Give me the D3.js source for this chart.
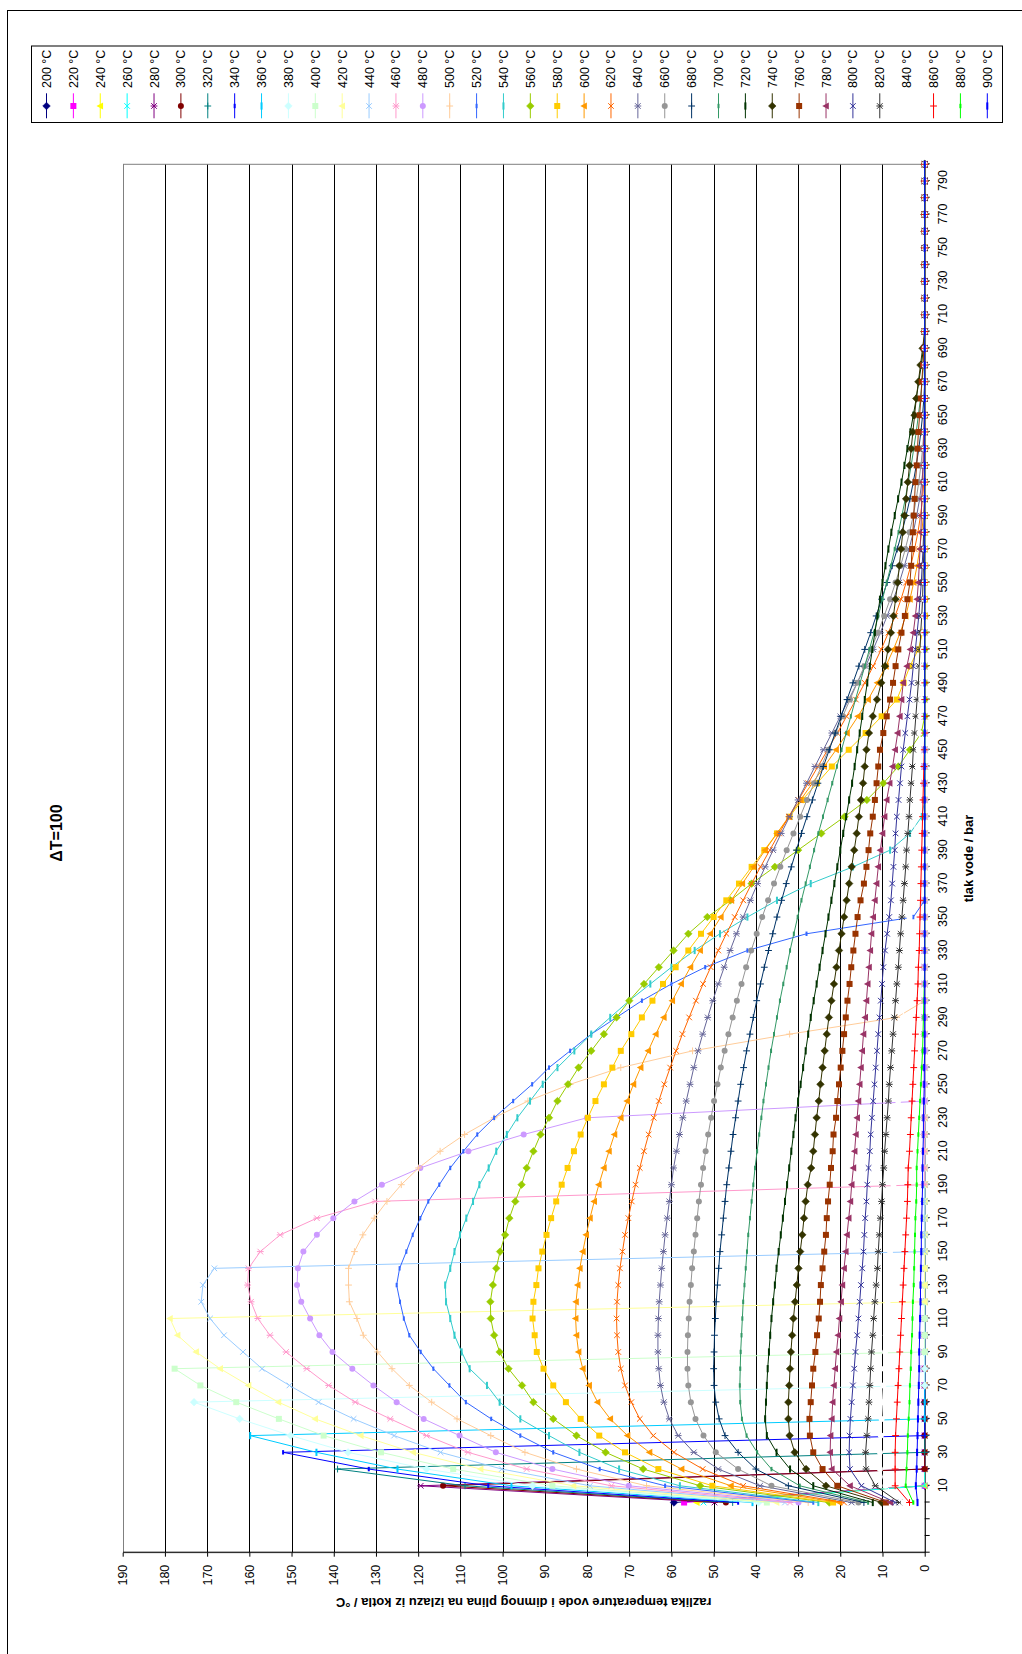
<!DOCTYPE html>
<html>
<head>
<meta charset="utf-8">
<title>dT=100</title>
<script src="https://d3js.org/d3.v7.min.js"></script>
<style>
  body { margin: 0; background: #fff; }
  text { font-family: "Liberation Sans", Arial, sans-serif; }
</style>
</head>
<body>
<div id="my_dataviz"></div>
<script>
// pressure categories (bar); first three slots are empty, the first point has no label
var pressure = ["", "", "", "1",
  "10","20","30","40","50","60","70","80","90","100",
  "110","120","130","140","150","160","170","180","190","200",
  "210","220","230","240","250","260","270","280","290","300",
  "310","320","330","340","350","360","370","380","390","400",
  "410","420","430","440","450","460","470","480","490","500",
  "510","520","530","540","550","560","570","580","590","600",
  "610","620","630","640","650","660","670","680","690","700",
  "710","720","730","740","750","760","770","780","790","800"];

var temps = ["200 °C","220 °C","240 °C","260 °C","280 °C","300 °C","320 °C","340 °C","360 °C",
  "380 °C","400 °C","420 °C","440 °C","460 °C","480 °C","500 °C","520 °C","540 °C",
  "560 °C","580 °C","600 °C","620 °C","640 °C","660 °C","680 °C","700 °C","720 °C",
  "740 °C","760 °C","780 °C","800 °C","820 °C","840 °C","860 °C","880 °C","900 °C"];

// temperature difference / °C, one value per pressure point (1, 10, 20 ... 800 bar)
var t200 = [59.4,
  0,0,0,0,0,0,0,0,0,0, 0,0,0,0,0,0,0,0,0,0, 0,0,0,0,0,0,0,0,0,0, 0,0,0,0,0,0,0,0,0,0,
  0,0,0,0,0,0,0,0,0,0, 0,0,0,0,0,0,0,0,0,0, 0,0,0,0,0,0,0,0,0,0, 0,0,0,0,0,0,0,0,0,0];
var t220 = [57.0,
  0,0,0,0,0,0,0,0,0,0, 0,0,0,0,0,0,0,0,0,0, 0,0,0,0,0,0,0,0,0,0, 0,0,0,0,0,0,0,0,0,0,
  0,0,0,0,0,0,0,0,0,0, 0,0,0,0,0,0,0,0,0,0, 0,0,0,0,0,0,0,0,0,0, 0,0,0,0,0,0,0,0,0,0];
var t240 = [54.0,
  0,0,0,0,0,0,0,0,0,0, 0,0,0,0,0,0,0,0,0,0, 0,0,0,0,0,0,0,0,0,0, 0,0,0,0,0,0,0,0,0,0,
  0,0,0,0,0,0,0,0,0,0, 0,0,0,0,0,0,0,0,0,0, 0,0,0,0,0,0,0,0,0,0, 0,0,0,0,0,0,0,0,0,0];
var t260 = [52.4,
  0,0,0,0,0,0,0,0,0,0, 0,0,0,0,0,0,0,0,0,0, 0,0,0,0,0,0,0,0,0,0, 0,0,0,0,0,0,0,0,0,0,
  0,0,0,0,0,0,0,0,0,0, 0,0,0,0,0,0,0,0,0,0, 0,0,0,0,0,0,0,0,0,0, 0,0,0,0,0,0,0,0,0,0];
var t280 = [49.8, 119.4,
  0,0,0,0,0,0,0,0,0,0, 0,0,0,0,0,0,0,0,0,0, 0,0,0,0,0,0,0,0,0,0, 0,0,0,0,0,0,0,0,0,0,
  0,0,0,0,0,0,0,0,0,0, 0,0,0,0,0,0,0,0,0,0, 0,0,0,0,0,0,0,0,0,0, 0,0,0,0,0,0,0,0,0];
var t300 = [47.1, 114.1,
  0,0,0,0,0,0,0,0,0,0, 0,0,0,0,0,0,0,0,0,0, 0,0,0,0,0,0,0,0,0,0, 0,0,0,0,0,0,0,0,0,0,
  0,0,0,0,0,0,0,0,0,0, 0,0,0,0,0,0,0,0,0,0, 0,0,0,0,0,0,0,0,0,0, 0,0,0,0,0,0,0,0,0];
var t320 = [45.5, 108.9, 139.1,
  0,0,0,0,0,0,0,0,0,0, 0,0,0,0,0,0,0,0,0,0, 0,0,0,0,0,0,0,0,0,0, 0,0,0,0,0,0,0,0,0,0,
  0,0,0,0,0,0,0,0,0,0, 0,0,0,0,0,0,0,0,0,0, 0,0,0,0,0,0,0,0,0,0, 0,0,0,0,0,0,0,0];
var t340 = [44.2, 103.4, 131.7, 152.0,
  0,0,0,0,0,0,0,0,0,0, 0,0,0,0,0,0,0,0,0,0, 0,0,0,0,0,0,0,0,0,0, 0,0,0,0,0,0,0,0,0,0,
  0,0,0,0,0,0,0,0,0,0, 0,0,0,0,0,0,0,0,0,0, 0,0,0,0,0,0,0,0,0,0, 0,0,0,0,0,0,0];
var t360 = [40.8, 97.9, 124.9, 144.1, 159.8,
  0,0,0,0,0,0,0,0,0,0, 0,0,0,0,0,0,0,0,0,0, 0,0,0,0,0,0,0,0,0,0, 0,0,0,0,0,0,0,0,0,0,
  0,0,0,0,0,0,0,0,0,0, 0,0,0,0,0,0,0,0,0,0, 0,0,0,0,0,0,0,0,0,0, 0,0,0,0,0,0];
var t380 = [39.4, 92.9, 118.0, 136.6, 150.2, 162.3, 173.1,
  0,0,0,0,0,0,0,0,0,0, 0,0,0,0,0,0,0,0,0,0, 0,0,0,0,0,0,0,0,0,0, 0,0,0,0,0,0,0,0,0,0,
  0,0,0,0,0,0,0,0,0,0, 0,0,0,0,0,0,0,0,0,0, 0,0,0,0,0,0,0,0,0,0, 0,0,0,0];
var t400 = [37.4, 88.2, 111.7, 128.8, 142.4, 153.0, 163.1, 171.6, 177.7,
  0,0,0,0,0,0,0,0,0,0, 0,0,0,0,0,0,0,0,0,0, 0,0,0,0,0,0,0,0,0,0, 0,0,0,0,0,0,0,0,0,0,
  0,0,0,0,0,0,0,0,0,0, 0,0,0,0,0,0,0,0,0,0, 0,0,0,0,0,0,0,0,0,0, 0,0];
var t420 = [35.1, 83.2, 105.2, 121.2, 133.6, 144.4, 153.1, 160.2, 166.9, 172.6,
  177.0, 178.8,
  0,0,0,0,0,0,0,0,0,0, 0,0,0,0,0,0,0,0,0,0, 0,0,0,0,0,0,0,0,0,0, 0,0,0,0,0,0,0,0,0,0,
  0,0,0,0,0,0,0,0,0,0, 0,0,0,0,0,0,0,0,0,0, 0,0,0,0,0,0,0,0,0];
var t440 = [33.1, 79.3, 100.2, 114.7, 125.7, 135.3, 143.6, 150.5, 157.0, 161.5,
  166.0, 169.3, 171.4, 171.0, 168.3,
  0,0,0,0,0,0,0,0,0,0, 0,0,0,0,0,0,0,0,0,0, 0,0,0,0,0,0,0,0,0,0, 0,0,0,0,0,0,0,0,0,0,
  0,0,0,0,0,0,0,0,0,0, 0,0,0,0,0,0,0,0,0,0, 0,0,0,0,0,0];
var t460 = [31.9, 74.2, 94.3, 108.2, 118.0, 126.6, 134.9, 141.2, 146.4, 151.3,
  155.1, 158.0, 159.6, 160.4, 160.2, 157.4, 152.7, 144.0, 130.2,
  0,0,0,0,0,0,0,0,0,0, 0,0,0,0,0,0,0,0,0,0, 0,0,0,0,0,0,0,0,0,0, 0,0,0,0,0,0,0,0,0,0,
  0,0,0,0,0,0,0,0,0,0, 0,0,0,0,0,0,0,0,0,0, 0,0];
var t480 = [29.9, 70.1, 88.2, 101.6, 110.2, 118.7, 125.1, 130.6, 135.6, 140.3,
  143.4, 145.6, 147.7, 148.7, 148.5, 147.2, 144.0, 140.1, 135.1, 128.6,
  119.5, 108.1, 95.0, 80.0,
  0,0,0,0,0,0,0,0,0,0, 0,0,0,0,0,0,0,0,0,0, 0,0,0,0,0,0,0,0,0,0, 0,0,0,0,0,0,0,0,0,0,
  0,0,0,0,0,0,0,0,0,0, 0,0,0,0,0,0,0];
var t500 = [27.6, 65.9, 82.5, 94.7, 102.8, 110.8, 116.8, 122.1, 126.2, 129.6,
  133.0, 134.5, 136.3, 136.5, 136.5, 135.1, 133.1, 130.4, 127.4, 124.0,
  119.9, 114.8, 109.0, 102.0, 94.0, 84.0, 72.0, 55.0, 32.0, 6.6,
  0,0,0,0,0,0,0,0,0,0, 0,0,0,0,0,0,0,0,0,0, 0,0,0,0,0,0,0,0,0,0, 0,0,0,0,0,0,0,0,0,0,
  0,0,0,0,0,0,0,0,0,0, 0];
var t520 = [26.4, 61.5, 77.0, 88.0, 95.8, 102.7, 108.7, 112.6, 116.4, 119.4,
  122.1, 123.4, 124.3, 125.1, 124.4, 122.8, 121.3, 119.5, 117.6, 115.0,
  112.4, 109.3, 106.0, 102.0, 97.5, 93.0, 89.0, 84.0, 79.0, 73.0,
  67.0, 60.0, 52.0, 42.0, 28.0, 2.7,
  0,0,0,0,0,0,0,0,0,0, 0,0,0,0,0,0,0,0,0,0, 0,0,0,0,0,0,0,0,0,0, 0,0,0,0,0,0,0,0,0,0,
  0,0,0,0,0];
var t540 = [25.2, 58.0, 72.4, 81.8, 89.0, 95.8, 100.7, 103.7, 107.8, 109.7,
  111.4, 112.4, 113.4, 113.6, 112.4, 111.4, 110.1, 108.6, 107.0, 105.5,
  103.3, 101.5, 99.0, 96.5, 93.5, 90.5, 87.0, 83.0, 79.0, 74.5,
  70.0, 65.0, 60.0, 54.5, 48.5, 42.0, 35.0, 27.0, 17.0, 8.2,
  3.5, 0.7,
  0,0,0,0,0,0,0,0,0,0, 0,0,0,0,0,0,0,0,0,0, 0,0,0,0,0,0,0,0,0,0, 0,0,0,0,0,0,0,0,0];
var t560 = [22.6, 53.2, 66.7, 75.6, 82.5, 88.0, 92.7, 95.4, 98.6, 100.7,
  102.0, 102.8, 102.9, 102.3, 101.5, 100.6, 99.4, 98.4, 97.0, 95.5,
  94.3, 92.7, 91.0, 89.0, 87.0, 84.5, 82.0, 79.0, 76.0, 73.0,
  70.0, 66.5, 63.0, 59.5, 56.0, 51.5, 46.0, 41.0, 35.5, 30.0,
  24.5, 19.0, 13.7, 9.8, 6.25, 3.5, 0.8,
  0,0,0,0,0,0,0,0,0,0, 0,0,0,0,0,0,0,0,0,0, 0,0,0,0,0,0,0,0,0,0, 0,0,0,0];
var t580 = [21.7, 50.3, 63.1, 71.0, 77.1, 81.5, 85.0, 88.0, 90.3, 91.9,
  92.4, 92.9, 92.7, 92.0, 91.5, 90.6, 89.6, 88.5, 87.3, 86.0,
  84.6, 83.1, 81.5, 79.8, 78.0, 76.0, 74.0, 72.0, 69.5, 67.0,
  64.5, 62.0, 59.0, 56.0, 53.0, 50.0, 47.0, 44.0, 41.0, 38.0,
  35.0, 32.0, 29.0, 25.5, 22.0, 18.0, 14.0, 10.2, 6.6, 5.0,
  3.5, 1.5, 0.5,
  0,0,0,0,0,0,0,0,0,0, 0,0,0,0,0,0,0,0,0,0, 0,0,0,0,0,0,0,0];
var t600 = [20.2, 45.9, 57.6, 65.2, 70.4, 74.5, 77.5, 79.5, 81.0, 82.0,
  82.5, 82.7, 82.6, 82.2, 81.7, 81.0, 80.2, 79.3, 78.3, 77.2,
  76.0, 74.8, 73.5, 72.0, 70.5, 69.0, 67.3, 65.5, 63.7, 61.8,
  59.8, 57.7, 55.5, 53.2, 50.8, 48.3, 45.8, 43.2, 40.5, 37.8,
  35.0, 32.2, 29.4, 26.6, 23.8, 21.0, 18.4, 15.8, 13.4, 11.2,
  9.2, 7.4, 5.8, 4.5, 3.5, 2.6, 1.8, 1.2, 0.7, 0.3,
  0,0,0,0,0,0,0,0,0,0, 0,0,0,0,0,0,0,0,0,0, 0];
var t620 = [19.1, 43.0, 52.6, 59.4, 64.3, 67.5, 69.5, 71.0, 72.0, 72.6,
  72.9, 73.0, 72.9, 72.6, 72.2, 71.6, 71.0, 70.2, 69.4, 68.5,
  67.5, 66.5, 65.4, 64.2, 63.0, 61.7, 60.3, 58.9, 57.4, 55.8,
  54.2, 52.5, 50.7, 48.9, 47.0, 45.0, 43.0, 41.0, 38.9, 36.7,
  34.5, 32.2, 29.9, 27.6, 25.3, 23.0, 20.7, 18.5, 16.3, 14.2,
  12.2, 10.3, 8.6, 7.0, 5.6, 4.4, 3.3, 2.4, 1.6, 1.0,
  0.5, 0.2,
  0,0,0,0,0,0,0,0,0,0, 0,0,0,0,0,0,0,0,0];
var t640 = [17.3, 39.0, 48.9, 54.7, 58.4, 60.5, 61.8, 62.6, 63.0, 63.2,
  63.2, 63.1, 62.9, 62.6, 62.3, 61.9, 61.5, 61.0, 60.5, 60.0,
  59.5, 58.8, 58.1, 57.3, 56.5, 55.6, 54.7, 53.7, 52.6, 51.4,
  50.2, 48.9, 47.5, 46.1, 44.6, 43.0, 41.3, 39.6, 37.8, 35.9,
  34.0, 32.0, 30.0, 28.0, 26.0, 24.0, 22.0, 20.0, 18.0, 16.0,
  14.0, 12.2, 10.5, 8.9, 7.4, 6.0, 4.8, 3.7, 2.7, 1.9,
  1.2, 0.7, 0.3, 0.1,
  0,0,0,0,0,0,0,0,0,0, 0,0,0,0,0,0,0];
var t660 = [15.7, 36.3, 44.2, 49.5, 52.4, 54.3, 55.4, 56.0, 56.2, 56.2,
  56.1, 55.9, 55.7, 55.4, 55.1, 54.7, 54.3, 53.9, 53.5, 53.0,
  52.5, 51.9, 51.3, 50.6, 49.9, 49.1, 48.3, 47.4, 46.5, 45.5,
  44.5, 43.4, 42.3, 41.1, 39.8, 38.5, 37.1, 35.7, 34.2, 32.7,
  31.1, 29.5, 27.9, 26.2, 24.5, 22.8, 21.1, 19.4, 17.7, 16.0,
  14.3, 12.7, 11.1, 9.6, 8.2, 6.9, 5.7, 4.6, 3.6, 2.7,
  2.0, 1.4, 0.9, 0.5, 0.2, 0.1,
  0,0,0,0,0,0,0,0,0,0, 0,0,0,0,0];
var t680 = [14.4, 32.3, 40.0, 44.2, 47.3, 48.7, 49.5, 49.9, 50.0, 49.9,
  49.8, 49.6, 49.4, 49.1, 48.8, 48.5, 48.1, 47.7, 47.3, 46.9,
  46.4, 45.9, 45.4, 44.8, 44.2, 43.6, 42.9, 42.2, 41.4, 40.6,
  39.8, 38.9, 38.0, 37.0, 36.0, 35.0, 33.9, 32.8, 31.6, 30.4,
  29.2, 27.9, 26.6, 25.3, 24.0, 22.6, 21.2, 19.8, 18.4, 17.0,
  15.6, 14.2, 12.8, 11.5, 10.2, 8.9, 7.7, 6.5, 5.4, 4.4,
  3.5, 2.7, 2.0, 1.4, 0.9, 0.5, 0.2,
  0,0,0,0,0,0,0,0,0,0, 0,0,0,0];
var t700 = [13.4, 29.6, 36.3, 39.7, 42.2, 43.3, 43.7, 43.8, 43.7, 43.6,
  43.4, 43.2, 43.0, 42.7, 42.4, 42.1, 41.8, 41.4, 41.0, 40.6,
  40.2, 39.7, 39.2, 38.7, 38.2, 37.6, 37.0, 36.4, 35.7, 35.0,
  34.3, 33.5, 32.7, 31.9, 31.0, 30.1, 29.2, 28.2, 27.2, 26.2,
  25.2, 24.1, 23.0, 21.9, 20.8, 19.7, 18.6, 17.5, 16.4, 15.3,
  14.2, 13.1, 12.0, 11.0, 10.0, 9.0, 8.0, 7.1, 6.2, 5.4,
  4.6, 3.9, 3.2, 2.6, 2.0, 1.5, 1.0, 0.6, 0.3,
  0,0,0,0,0,0,0,0,0,0, 0,0];
var t720 = [12.3, 26.4, 31.9, 35.1, 37.4, 37.8, 37.6, 37.4, 37.2, 36.9,
  36.6, 36.3, 35.9, 35.5, 35.1, 34.6, 34.1, 33.6, 33.1, 32.6,
  32.1, 31.6, 31.1, 30.6, 30.0, 29.4, 28.8, 28.2, 27.6, 27.0,
  26.3, 25.6, 24.9, 24.2, 23.5, 22.8, 22.1, 21.4, 20.7, 20.0,
  19.3, 18.6, 17.9, 17.2, 16.6, 16.0, 15.4, 14.8, 14.2, 13.6,
  13.0, 12.4, 11.8, 11.2, 10.6, 10.0, 9.3, 8.6, 7.9, 7.1,
  6.3, 5.5, 4.8, 4.1, 3.4, 2.7, 2.0, 1.4, 0.8, 0.3,
  0,0,0,0,0,0,0,0,0,0, 0];
var t740 = [10.2, 23.4, 28.1, 30.8, 32.0, 32.3, 32.3, 32.1, 31.9, 31.7,
  31.4, 31.1, 30.7, 30.3, 29.9, 29.5, 29.0, 28.6, 28.2, 27.7,
  26.9, 26.4, 26.0, 25.6, 25.1, 24.7, 24.2, 23.7, 23.2, 22.7,
  22.1, 21.5, 20.9, 20.3, 19.7, 19.1, 18.5, 17.9, 17.3, 16.7,
  16.1, 15.6, 15.1, 14.6, 14.2, 13.8, 13.2, 12.3, 11.3, 10.3,
  9.4, 8.7, 8.0, 7.4, 6.9, 6.4, 6.0, 5.6, 5.2, 4.8,
  4.4, 4.0, 3.6, 3.2, 2.8, 2.4, 2.0, 1.5, 1.0, 0.5,
  0,0,0,0,0,0,0,0,0,0, 0];
var t760 = [9.2, 20.7, 24.2, 26.4, 27.2, 27.3, 27.0, 26.7, 26.4, 25.9,
  25.5, 25.1, 24.8, 24.6, 24.2, 23.8, 23.4, 23.2, 22.9, 22.5,
  22.2, 21.8, 21.6, 21.0, 20.7, 20.3, 19.9, 19.5, 19.1, 18.7,
  18.3, 17.8, 17.4, 16.9, 16.4, 15.9, 15.2, 14.4, 13.8, 13.3,
  12.9, 12.3, 11.8, 11.4, 11.0, 10.6, 9.8, 9.0, 8.2, 7.5,
  6.9, 6.25, 5.5, 4.7, 4.1, 3.5, 3.2, 3.0, 2.8, 2.6,
  2.4, 2.2, 1.9, 1.7, 1.5, 1.2, 0.9, 0.7, 0.4, 0.2,
  0,0,0,0,0,0,0,0,0,0, 0];
var t780 = [8.1, 17.7, 22.0, 22.4, 22.3, 22.0, 21.8, 21.5, 21.2, 20.9,
  20.5, 20.2, 19.8, 19.5, 19.1, 18.7, 18.4, 18.0, 17.6, 17.3,
  16.9, 16.6, 16.3, 16.0, 15.7, 15.4, 15.1, 14.8, 14.5, 14.1,
  13.8, 13.5, 13.2, 12.9, 12.6, 12.2, 11.8, 11.4, 11.0, 10.5,
  10.0, 9.5, 9.0, 8.3, 7.6, 7.0, 6.4, 5.9, 5.5, 5.1,
  4.2, 3.4, 2.7, 2.2, 1.8, 1.5, 1.3, 1.1, 0.9, 0.8,
  0.7, 0.5, 0.4, 0.3, 0.2, 0.1,
  0,0,0,0,0,0,0,0,0,0, 0,0,0,0,0];
var t800 = [7.0, 15.0, 17.7, 17.9, 17.8, 17.6, 17.3, 17.0, 16.7, 16.4,
  16.0, 15.7, 15.4, 15.1, 14.8, 14.5, 14.3, 14.1, 13.8, 13.6,
  13.3, 13.0, 12.8, 12.5, 12.2, 11.9, 11.6, 11.3, 11.0, 10.7,
  10.4, 10.1, 9.8, 9.4, 8.9, 8.4, 8.0, 7.7, 7.4, 7.1,
  6.9, 6.6, 6.2, 5.85, 5.5, 5.1, 4.6, 4.1, 3.6, 3.1,
  2.7, 2.2, 1.8, 1.4, 1.1, 0.8, 0.6, 0.4, 0.25, 0.15,
  0.05,
  0,0,0,0,0,0,0,0,0,0, 0,0,0,0,0,0,0,0,0,0];
var t820 = [6.0, 11.7, 13.9, 14.0, 13.7, 13.4, 13.2, 13.0, 12.8, 12.6,
  12.3, 12.1, 11.8, 11.5, 11.2, 11.0, 10.75, 10.5, 10.2, 10.0,
  9.7, 9.5, 9.2, 8.9, 8.6, 8.4, 8.1, 7.8, 7.5, 7.2,
  6.9, 6.6, 6.25, 6.0, 5.7, 5.4, 5.1, 4.8, 4.5, 4.3,
  4.0, 3.7, 3.5, 3.2, 2.9, 2.7, 2.4, 2.1, 1.8, 1.5,
  1.3, 1.1, 0.95, 0.7, 0.5, 0.4, 0.3, 0.2, 0.1,
  0,0,0,0,0,0,0,0,0,0, 0,0,0,0,0,0,0,0,0,0, 0,0];
var t840 = [5.0, 9.3, 10.6, 10.6, 10.4, 10.2, 10.0, 9.8, 9.6, 9.4,
  9.2, 9.0, 8.8, 8.6, 8.4, 8.2, 8.0, 7.8, 7.6, 7.4,
  7.2, 7.0, 6.8, 6.5, 6.3, 6.1, 5.8, 5.6, 5.3, 5.1,
  4.8, 4.6, 4.3, 4.1, 3.8, 3.6, 3.3, 3.1, 2.8, 2.6,
  2.4, 2.2, 2.0, 1.8, 1.6, 1.4, 1.2, 1.0, 0.8, 0.6,
  0.5, 0.4, 0.3, 0.2, 0.1,
  0,0,0,0,0,0,0,0,0,0, 0,0,0,0,0,0,0,0,0,0, 0,0,0,0,0,0];
var t860 = [3.6, 7.0, 7.0, 7.0, 6.9, 6.7, 6.5, 6.3, 6.1, 5.9,
  5.7, 5.5, 5.3, 5.1, 4.9, 4.7, 4.5, 4.3, 4.1, 4.0,
  3.9, 3.6, 3.4, 3.2, 3.0, 2.8, 2.6, 2.4, 2.2, 2.0,
  1.8, 1.6, 1.5, 1.3, 1.2, 1.1, 1.0, 0.9, 0.8, 0.7,
  0.6, 0.5, 0.4, 0.3, 0.2, 0.1,
  0,0,0,0,0,0,0,0,0,0, 0,0,0,0,0,0,0,0,0,0, 0,0,0,0,0,0,0,0,0,0, 0,0,0,0,0];
var t880 = [2.7, 4.5, 4.3, 4.1, 4.0, 3.8, 3.6, 3.5, 3.3, 3.2,
  3.0, 2.9, 2.8, 2.6, 2.5, 2.4, 2.3, 2.2, 2.0, 1.9,
  1.9, 1.7, 1.5, 1.3, 1.1, 0.9, 0.7, 0.5, 0.4, 0.3,
  0.2, 0.1,
  0,0,0,0,0,0,0,0,0,0, 0,0,0,0,0,0,0,0,0,0, 0,0,0,0,0,0,0,0,0,0, 0,0,0,0,0,0,0,0,0,0,
  0,0,0,0,0,0,0,0,0];
var t900 = [1.7, 2.1, 1.9, 1.8, 1.7, 1.6, 1.5, 1.4, 1.3, 1.3,
  1.2, 1.1, 1.0, 1.0, 0.9, 0.8, 0.8, 0.7, 0.6, 0.5,
  0.5, 0.4, 0.3, 0.3, 0.2, 0.1, 0.1,
  0,0,0,0,0,0,0,0,0,0, 0,0,0,0,0,0,0,0,0,0, 0,0,0,0,0,0,0,0,0,0, 0,0,0,0,0,0,0,0,0,0,
  0,0,0,0,0,0,0,0,0,0, 0,0,0,0];

var series = [t200, t220, t240, t260, t280, t300, t320, t340, t360, t380, t400, t420,
  t440, t460, t480, t500, t520, t540, t560, t580, t600, t620, t640, t660, t680, t700,
  t720, t740, t760, t780, t800, t820, t840, t860, t880, t900];

// excel default line colours, in series order
var colors = ["#000080","#FF00FF","#FFFF00","#00FFFF","#800080","#800000","#008080","#0000FF",
  "#00CCFF","#CCFFFF","#CCFFCC","#FFFF99","#99CCFF","#FF99CC","#CC99FF","#FFCC99",
  "#3366FF","#33CCCC","#99CC00","#FFCC00","#FF9900","#FF6600","#666699","#969696",
  "#003366","#339966","#003300","#333300","#993300","#993366","#333399","#333333",
  "#FFFFFF","#FF0000","#00FF00","#0000FF"];
var markerCycle = ["diamond","square","triangle","x","star","circle","plus","dash","longdash"];

series.forEach(function(s, i) {
  if (s.length != pressure.length - 3) throw new Error(temps[i] + " has " + s.length + " points");
});

var W = 1022, H = 1654;
var svg = d3.select("#my_dataviz").append("svg")
  .attr("width", W)
  .attr("height", H);

// the chart is laid out in landscape and then turned a quarter turn to the left
var chart = svg.append("g")
  .attr("transform", "translate(0," + H + ") rotate(-90)");

// chart area frame
chart.append("rect")
  .attr("x", -10).attr("y", 7.5)
  .attr("width", 1653.5).attr("height", 1100)
  .attr("fill", "none").attr("stroke", "#000");

var plotL = 101.3, plotR = 1489.7, plotT = 122.7, plotB = 924.7;

var x = d3.scalePoint()
  .domain(d3.range(pressure.length))
  .range([plotL, plotR]);

var y = d3.scaleLinear()
  .domain([0, 190])
  .range([plotB, plotT]);

// gridlines
chart.append("g").selectAll("line")
  .data(d3.range(10, 190, 10))
  .enter().append("line")
  .attr("x1", plotL).attr("x2", plotR)
  .attr("y1", function(d) { return Math.round(y(d)) + 0.5; })
  .attr("y2", function(d) { return Math.round(y(d)) + 0.5; })
  .attr("stroke", "#000")
  .attr("shape-rendering", "crispEdges");

// plot area border
chart.append("rect")
  .attr("x", plotL).attr("y", Math.round(plotT) + 0.5)
  .attr("width", plotR - plotL).attr("height", plotB - plotT)
  .attr("fill", "none").attr("stroke", "#808080");

// pressure axis
var xAxis = d3.axisBottom(x)
  .tickSize(5).tickSizeOuter(0).tickPadding(8)
  .tickFormat(function(i) { return i % 2 == 0 ? pressure[i] : ""; });
var gx = chart.append("g")
  .attr("transform", "translate(0," + plotB + ")")
  .call(xAxis);

// temperature difference axis
var yAxis = d3.axisLeft(y)
  .tickValues(d3.range(0, 191, 10))
  .tickSize(4).tickSizeOuter(0).tickPadding(8);
var gy = chart.append("g")
  .attr("transform", "translate(" + plotL + ",0)")
  .call(yAxis);

[gx, gy].forEach(function(a) {
  a.attr("font-family", "Liberation Sans, Arial, sans-serif").attr("font-size", 12.5);
  a.selectAll("text").attr("fill", "#000");
  a.selectAll("line, path").attr("stroke", "#000");
});

function drawMarker(sel, type, c) {
  if (type == "diamond") {
    sel.append("path").attr("d", "M0,-3.8L3.8,0L0,3.8L-3.8,0Z").attr("fill", c).attr("stroke", c).attr("stroke-width", 0.5);
  } else if (type == "square") {
    sel.append("rect").attr("x", -3).attr("y", -3).attr("width", 6).attr("height", 6).attr("fill", c);
  } else if (type == "triangle") {
    sel.append("path").attr("d", "M0,-3.8L3.6,2.8L-3.6,2.8Z").attr("fill", c);
  } else if (type == "x") {
    sel.append("path").attr("d", "M-2.8,-2.8L2.8,2.8M-2.8,2.8L2.8,-2.8").attr("stroke", c).attr("stroke-width", 1);
  } else if (type == "star") {
    sel.append("path").attr("d", "M-2.8,-2.8L2.8,2.8M-2.8,2.8L2.8,-2.8M0,-3.4L0,3.4").attr("stroke", c).attr("stroke-width", 1);
  } else if (type == "circle") {
    sel.append("circle").attr("r", 3).attr("fill", c);
  } else if (type == "plus") {
    sel.append("path").attr("d", "M-3.4,0L3.4,0M0,-3.4L0,3.4").attr("stroke", c).attr("stroke-width", 1);
  } else if (type == "dash") {
    sel.append("rect").attr("x", -2.2).attr("y", -1).attr("width", 4.4).attr("height", 2).attr("fill", c);
  } else {
    sel.append("rect").attr("x", -3.6).attr("y", -1).attr("width", 7.2).attr("height", 2).attr("fill", c);
  }
}

var line = d3.line()
  .x(function(d) { return x(d[0]); })
  .y(function(d) { return y(d[1]); });

series.forEach(function(vals, i) {
  var pts = vals.map(function(v, j) { return [j + 3, v]; });
  var gs = chart.append("g");
  gs.append("path")
    .attr("d", line(pts))
    .attr("fill", "none")
    .attr("stroke", colors[i])
    .attr("stroke-width", 1);
  gs.selectAll("g")
    .data(pts)
    .enter().append("g")
    .attr("transform", function(d) { return "translate(" + x(d[0]) + "," + y(d[1]) + ")"; })
    .each(function() { drawMarker(d3.select(this), markerCycle[i % 9], colors[i]); });
});

// legend
var lg = chart.append("g");
lg.append("rect")
  .attr("x", 1531.5).attr("y", 31.5)
  .attr("width", 76.5).attr("height", 971)
  .attr("fill", "#fff").attr("stroke", "#000");
temps.forEach(function(t, i) {
  var ly = 46.5 + 26.88 * i;
  lg.append("line")
    .attr("x1", 1535.7).attr("x2", 1560.7)
    .attr("y1", ly).attr("y2", ly)
    .attr("stroke", colors[i]);
  drawMarker(lg.append("g").attr("transform", "translate(1548," + ly + ")"), markerCycle[i % 9], colors[i]);
  lg.append("text")
    .attr("x", 1566).attr("y", ly + 4.5)
    .attr("font-size", 12.5)
    .text(t);
});

// titles
chart.append("text")
  .attr("x", 821).attr("y", 62)
  .attr("text-anchor", "middle")
  .attr("font-weight", "bold")
  .attr("font-size", 16)
  .text("ΔT=100");

chart.append("text")
  .attr("x", (plotL + plotR) / 2).attr("y", 973)
  .attr("text-anchor", "middle")
  .attr("font-weight", "bold")
  .attr("font-size", 13)
  .text("tlak vode / bar");

chart.append("text")
  .attr("transform", "translate(56.5," + (plotT + plotB) / 2 + ") rotate(-90)")
  .attr("text-anchor", "middle")
  .attr("font-weight", "bold")
  .attr("font-size", 13)
  .text("razlika temperature vode i dimnog plina  na izlazu iz kotla / °C");
</script>
</body>
</html>
